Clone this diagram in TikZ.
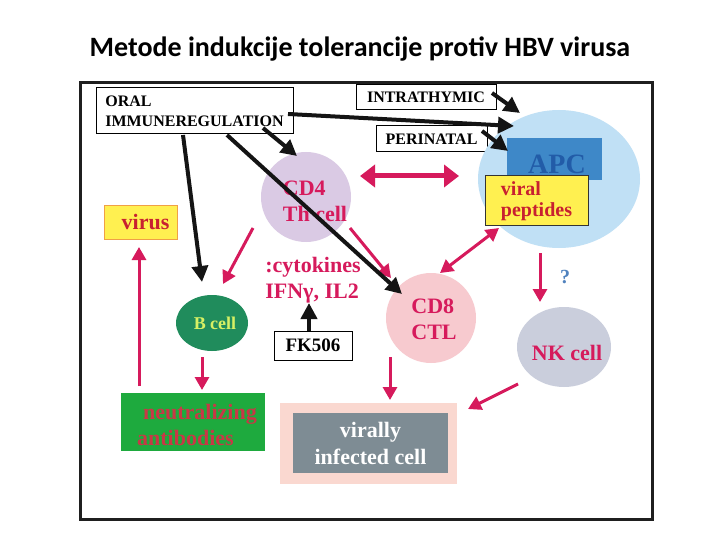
\documentclass[tikz,border=0pt]{standalone}
\usepackage{fontspec}
\setmainfont{Liberation Serif}
\newfontfamily\titlefont{Carlito}
\usetikzlibrary{arrows.meta,shapes.geometric}
\definecolor{crim}{RGB}{214,26,92}
\definecolor{redtxt}{RGB}{200,32,48}
\definecolor{yel}{RGB}{255,240,80}
\definecolor{apcc}{RGB}{192,224,245}
\definecolor{apcr}{RGB}{62,136,200}
\definecolor{apct}{RGB}{34,92,168}
\definecolor{cdfour}{RGB}{218,202,228}
\definecolor{cdeight}{RGB}{247,202,207}
\definecolor{nkc}{RGB}{202,206,220}
\definecolor{bcellc}{RGB}{32,140,92}
\definecolor{bcellt}{RGB}{215,240,100}
\definecolor{neutc}{RGB}{30,170,62}
\definecolor{neutt}{RGB}{200,56,70}
\definecolor{infout}{RGB}{250,216,208}
\definecolor{infin}{RGB}{126,140,148}
\definecolor{qblue}{RGB}{80,130,190}
\begin{document}
\begin{tikzpicture}[x=1pt,y=-1pt,
  lbox/.style={draw=black, line width=1pt, fill=white, inner sep=0pt, font=\bfseries\fontsize{16}{20}\selectfont},
  cell/.style={ellipse, draw=none, inner sep=0pt},
  celltxt/.style={font=\bfseries\fontsize{22}{26}\selectfont, text=crim, align=left, inner sep=0pt},
  blk/.style={line width=4pt, draw=black!92, -{Triangle[length=16pt,width=16pt]}},
  pnk/.style={line width=3pt, draw=crim, -{Triangle[length=13pt,width=14pt]}},
  pnkd/.style={line width=3pt, draw=crim, {Triangle[length=13pt,width=14pt]}-{Triangle[length=13pt,width=14pt]}},
  pnkw/.style={line width=5pt, draw=crim, {Triangle[length=15pt,width=22pt]}-{Triangle[length=15pt,width=22pt]}}]
\useasboundingbox (0,0) rectangle (720,540);
\fill[white] (0,0) rectangle (720,540);
% title
\node[font=\titlefont\bfseries\fontsize{28}{32}\selectfont, anchor=base, inner sep=0pt] (title) at (360,57) {Metode indukcije tolerancije protiv HBV virusa};
% frame
\draw[line width=3pt, black!88] (80,83) rectangle (652,519);
% boxes top
\node[lbox, minimum width=197pt, minimum height=46pt, align=left] (oral) at (194.5,111) {ORAL\\IMMUNEREGULATION};
\node[lbox, minimum width=140pt, minimum height=25pt] (intra) at (426,97.5) {INTRATHYMIC};
\node[lbox, minimum width=111pt, minimum height=26pt] (peri) at (431.5,139) {PERINATAL};
% APC
\node[cell, fill=apcc, minimum width=162pt, minimum height=138pt] (apc) at (559,179) {};
\node[fill=apcr, minimum width=95pt, minimum height=42pt, inner sep=0pt] (apcr) at (554.5,159) {};
\node[font=\bfseries\fontsize{28}{32}\selectfont, text=apct, inner sep=0pt] (apct) at (557,164) {APC};
\node[draw=black!80, line width=1pt, fill=yel, minimum width=103pt, minimum height=50pt, inner sep=0pt, align=left, font=\bfseries\fontsize{20}{21}\selectfont, text=redtxt] (vp) at (536.5,201) {viral\\peptides};
% CD4
\node[cell, fill=cdfour, minimum width=90pt, minimum height=90pt] (cd4) at (306,197) {};
\node[celltxt, anchor=center] (cd4t) at (315,201) {CD4\\Th cell};
% virus
\node[draw={rgb,255:red,240;green,160;blue,70}, line width=1pt, fill=yel, minimum width=73pt, minimum height=33pt, inner sep=0pt, font=\bfseries\fontsize{22}{26}\selectfont, text=redtxt] (virus) at (140.5,222.5) {\hspace*{10pt}virus};
% cytokines
\node[celltxt, anchor=center] (cyto) at (313,280) {:cytokines\\IFNγ, IL2};
% B cell
\node[cell, fill=bcellc, minimum width=72pt, minimum height=56pt, font=\bfseries\fontsize{18}{20}\selectfont, text=bcellt] (bcell) at (212,323) {\hspace*{6pt}B cell};
% FK506
\node[lbox, minimum width=78pt, minimum height=29pt, font=\bfseries\fontsize{19}{22}\selectfont] (fk) at (313,345.5) {FK506};
% CD8
\node[cell, fill=cdeight, minimum width=90pt, minimum height=90pt] (cd8) at (431,318) {};
\node[celltxt, anchor=center] (cd8t) at (434,319) {CD8\\CTL};
% NK
\node[cell, fill=nkc, minimum width=94pt, minimum height=80pt] (nk) at (564,347) {};
\node[celltxt, anchor=center] (nkt) at (567,353) {NK cell};
\node[font=\bfseries\fontsize{20}{22}\selectfont, text=qblue, inner sep=0pt] (q) at (565,277) {?};
% neutralizing
\node[fill=neutc, minimum width=144pt, minimum height=58pt, inner sep=0pt] (neut) at (193,422) {};
\node[font=\bfseries\fontsize{22}{26}\selectfont, text=neutt, align=left, inner sep=0pt, anchor=center] (neutt) at (197,425) {\hspace*{6pt}neutralizing\\antibodies};
% infected
\node[fill=infout, minimum width=177pt, minimum height=81pt, inner sep=0pt] (infout) at (368.5,443.5) {};
\node[fill=infin, minimum width=155pt, minimum height=60pt, inner sep=0pt, font=\bfseries\fontsize{22}{27}\selectfont, text=white, align=center] (inf) at (370.5,443) {virally\\infected cell};
% coordinates for connector ends
\coordinate (o1) at (183,135); \coordinate (b1) at (202,282);
\coordinate (o2) at (227,135); \coordinate (c82) at (402,294);
\coordinate (o3) at (263,128); \coordinate (c43) at (297,156);
\coordinate (o4) at (288,114); \coordinate (a4) at (514,126);
\coordinate (i5) at (492,93); \coordinate (a5) at (520,113);
\coordinate (p6) at (482,131); \coordinate (a6) at (508,151);
\coordinate (f7) at (309,331); \coordinate (c7) at (309,303);
\coordinate (c48) at (253,228); \coordinate (b8) at (223,284);
\coordinate (c49) at (350,228); \coordinate (c89) at (391,278);
\coordinate (c410) at (360,176); \coordinate (a10) at (459,176);
\coordinate (v11) at (499,228); \coordinate (c811) at (440,273);
\coordinate (a12) at (540,253); \coordinate (n12) at (540,302);
\coordinate (c813) at (390,357); \coordinate (i13) at (390,400);
\coordinate (n14) at (518,384); \coordinate (i14) at (468,409);
\coordinate (b15) at (202,357); \coordinate (n15) at (202,390);
\coordinate (n16) at (139,386); \coordinate (v16) at (139,247);
% pink connectors
\draw[pnk] (c48) -- (b8);
\draw[pnk] (c49) -- (c89);
\draw[pnkw] (c410) -- (a10);
\draw[pnkd] (v11) -- (c811);
\draw[pnk] (a12) -- (n12);
\draw[pnk] (c813) -- (i13);
\draw[pnk] (n14) -- (i14);
\draw[pnk] (b15) -- (n15);
\draw[pnk] (n16) -- (v16);
% black connectors
\draw[blk] (o1) -- (b1);
\draw[blk] (o2) -- (c82);
\draw[blk] (o3) -- (c43);
\draw[blk] (o4) -- (a4);
\draw[blk] (i5) -- (a5);
\draw[blk] (p6) -- (a6);
\draw[blk] (f7) -- (c7);
\end{tikzpicture}
\end{document}
